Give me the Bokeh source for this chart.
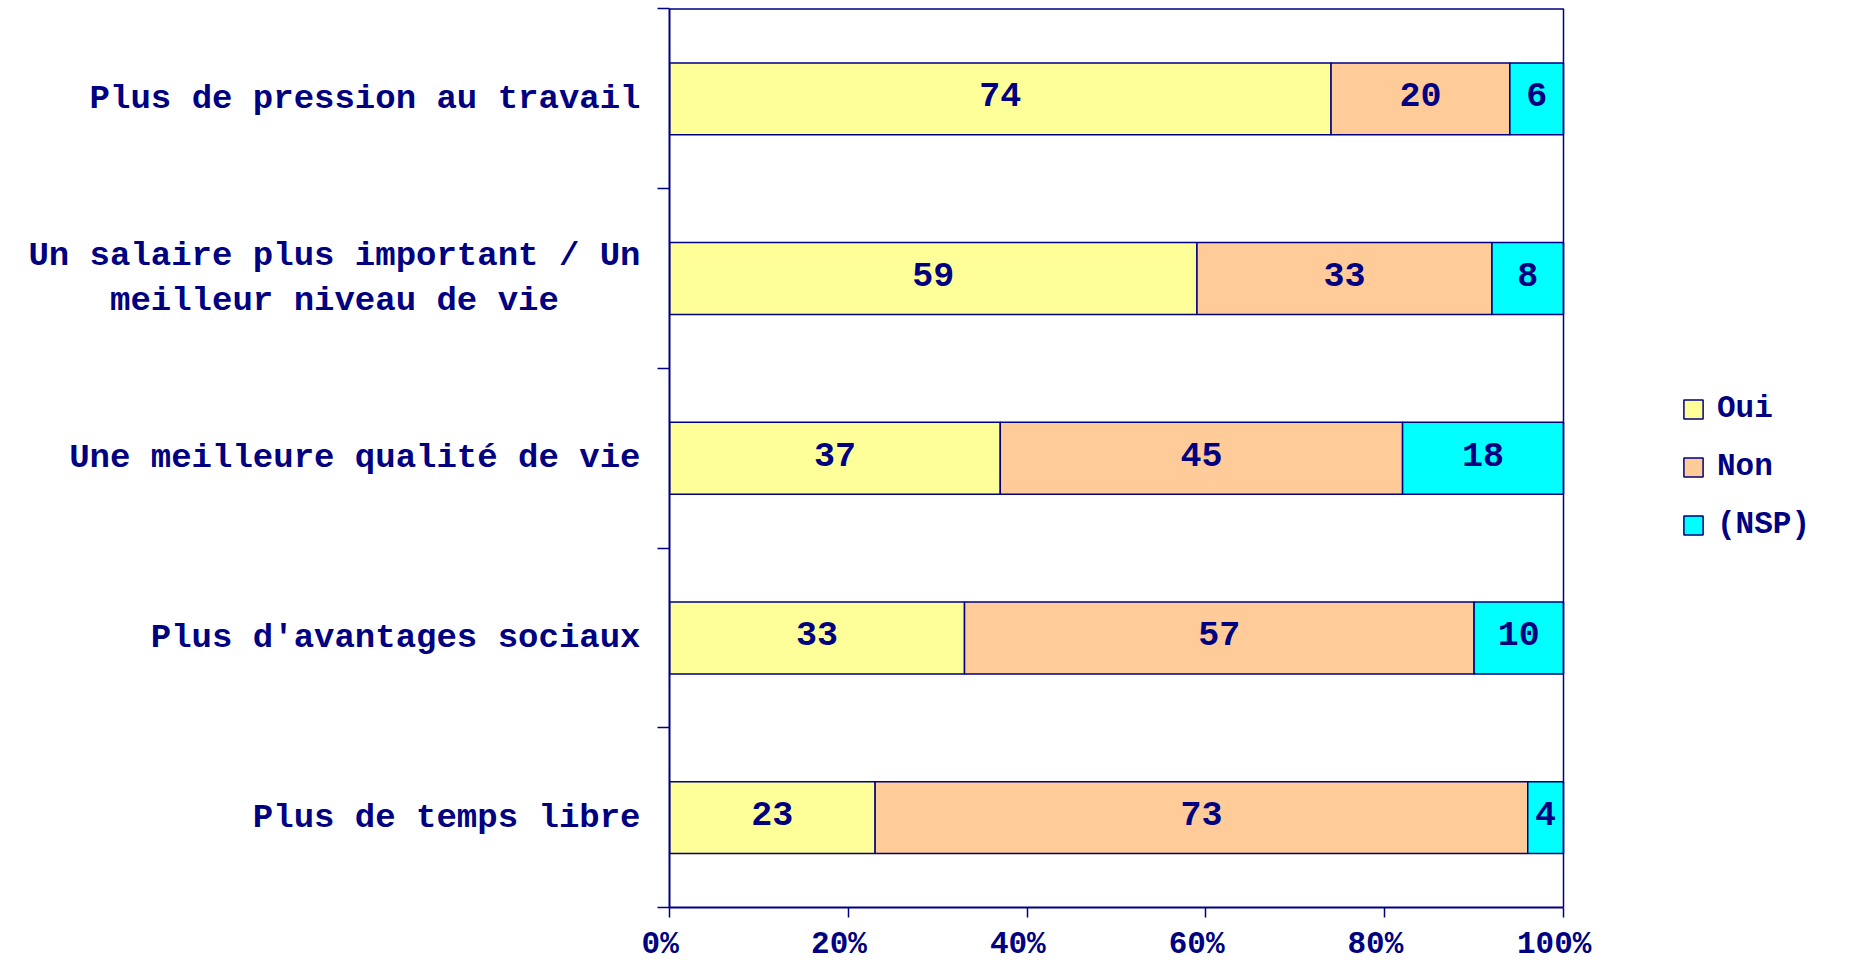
from bokeh.plotting import figure
from bokeh.models import ColumnDataSource, FixedTicker, Legend, LegendItem, Range1d
from bokeh.core.properties import value
from bokeh.embed import file_html
from bokeh.resources import INLINE

categories = ["Plus de pression au travail",
              "Un salaire plus important / Un\nmeilleur niveau de vie\u00a0\u00a0\u00a0\u00a0",
              "Une meilleure qualité de vie",
              "Plus d'avantages sociaux",
              "Plus de temps libre"]
oui = [74, 59, 37, 33, 23]
non = [20, 33, 45, 57, 73]
nsp = [6, 8, 18, 10, 4]
series = ["Oui", "Non", "(NSP)"]
colors = ["#FFFF99", "#FFCC99", "#00FFFF"]
x_ticks = [0, 20, 40, 60, 80, 100]
x_labels = ["0%", "20%", "40%", "60%", "80%", "100%"]

NAVY = "#000080"
FONT = "Liberation Mono"
n = len(categories)
ypos = [n - i - 0.5 for i in range(n)]

# layout (pixels)
W, H = 1850, 964
LEFT, TOP, BOTTOM, RIGHT = 669, 7, 54, 10
PLOT_W = 894            # pixel width of the 0..100 % scale
frame_w = W - LEFT - RIGHT
frame_h = H - TOP - BOTTOM
x_end = 100.0 * frame_w / PLOT_W
y_end = n * (frame_h + 1.5) / frame_h

src = ColumnDataSource(dict(y=ypos, oui=oui, non=non, nsp=nsp))

p = figure(width=W, height=H, x_range=Range1d(0, x_end), y_range=Range1d(0, y_end),
           output_backend="svg", toolbar_location=None,
           min_border_left=LEFT, min_border_right=RIGHT, min_border_top=TOP,
           min_border_bottom=BOTTOM)

rs = p.hbar_stack(["oui", "non", "nsp"], y="y", height=0.4, color=colors, source=src,
                  line_color=NAVY, line_width=1.5)

# plot-area border (top and right)
p.line(x=[0, 100, 100], y=[n, n, 0], line_color=NAVY, line_width=1.5)

# value labels
lx, ly, lt = [], [], []
for i in range(n):
    vals = [oui[i], non[i], nsp[i]]
    cum = 0
    for v in vals:
        lx.append(cum + v / 2)
        ly.append(ypos[i])
        lt.append(str(v))
        cum += v
p.text(x=lx, y=ly, text=lt, text_align="center", text_baseline="middle", y_offset=-4,
       text_font=value(FONT), text_font_style="bold", text_font_size="35px", text_color=NAVY)

p.grid.visible = False
p.outline_line_color = None
p.background_fill_color = "white"
p.border_fill_color = "white"

# x axis
xa = p.xaxis[0]
xa.ticker = FixedTicker(ticks=x_ticks)
xa.bounds = (0, 100)
xa.major_label_overrides = {t: l + "\u00a0" for t, l in zip(x_ticks, x_labels)}
xa.axis_line_color = NAVY
xa.axis_line_width = 2
xa.major_tick_line_color = NAVY
xa.major_tick_line_width = 1.5
xa.major_tick_out = 10
xa.major_tick_in = 0
xa.minor_tick_line_color = None
xa.major_label_text_font = FONT
xa.major_label_text_font_style = "bold"
xa.major_label_text_font_size = "31px"
xa.major_label_text_color = NAVY
xa.major_label_standoff = 9

# y axis
ya = p.yaxis[0]
ya.ticker = FixedTicker(ticks=ypos, minor_ticks=list(range(n + 1)))
ya.bounds = (0, n)
ya.major_label_overrides = {y: c for y, c in zip(ypos, categories)}
ya.axis_line_color = NAVY
ya.axis_line_width = 2
ya.major_tick_line_color = None
ya.minor_tick_line_color = NAVY
ya.minor_tick_line_width = 1.5
ya.minor_tick_out = 12
ya.minor_tick_in = 0
ya.major_label_text_font = FONT
ya.major_label_text_font_style = "bold"
ya.major_label_text_font_size = "34px"
ya.major_label_text_color = NAVY
ya.major_label_standoff = 17

legend = Legend(items=[LegendItem(label=s, renderers=[r]) for s, r in zip(series, rs)],
                location=(1012, 365), padding=0, margin=0, spacing=23,
                glyph_width=24, glyph_height=24, label_standoff=12,
                label_text_font=FONT, label_text_font_style="bold",
                label_text_font_size="31px", label_text_color=NAVY,
                border_line_color=None, background_fill_alpha=0)
p.add_layout(legend, "center")

open("out.html", "w").write(file_html(p, INLINE))
